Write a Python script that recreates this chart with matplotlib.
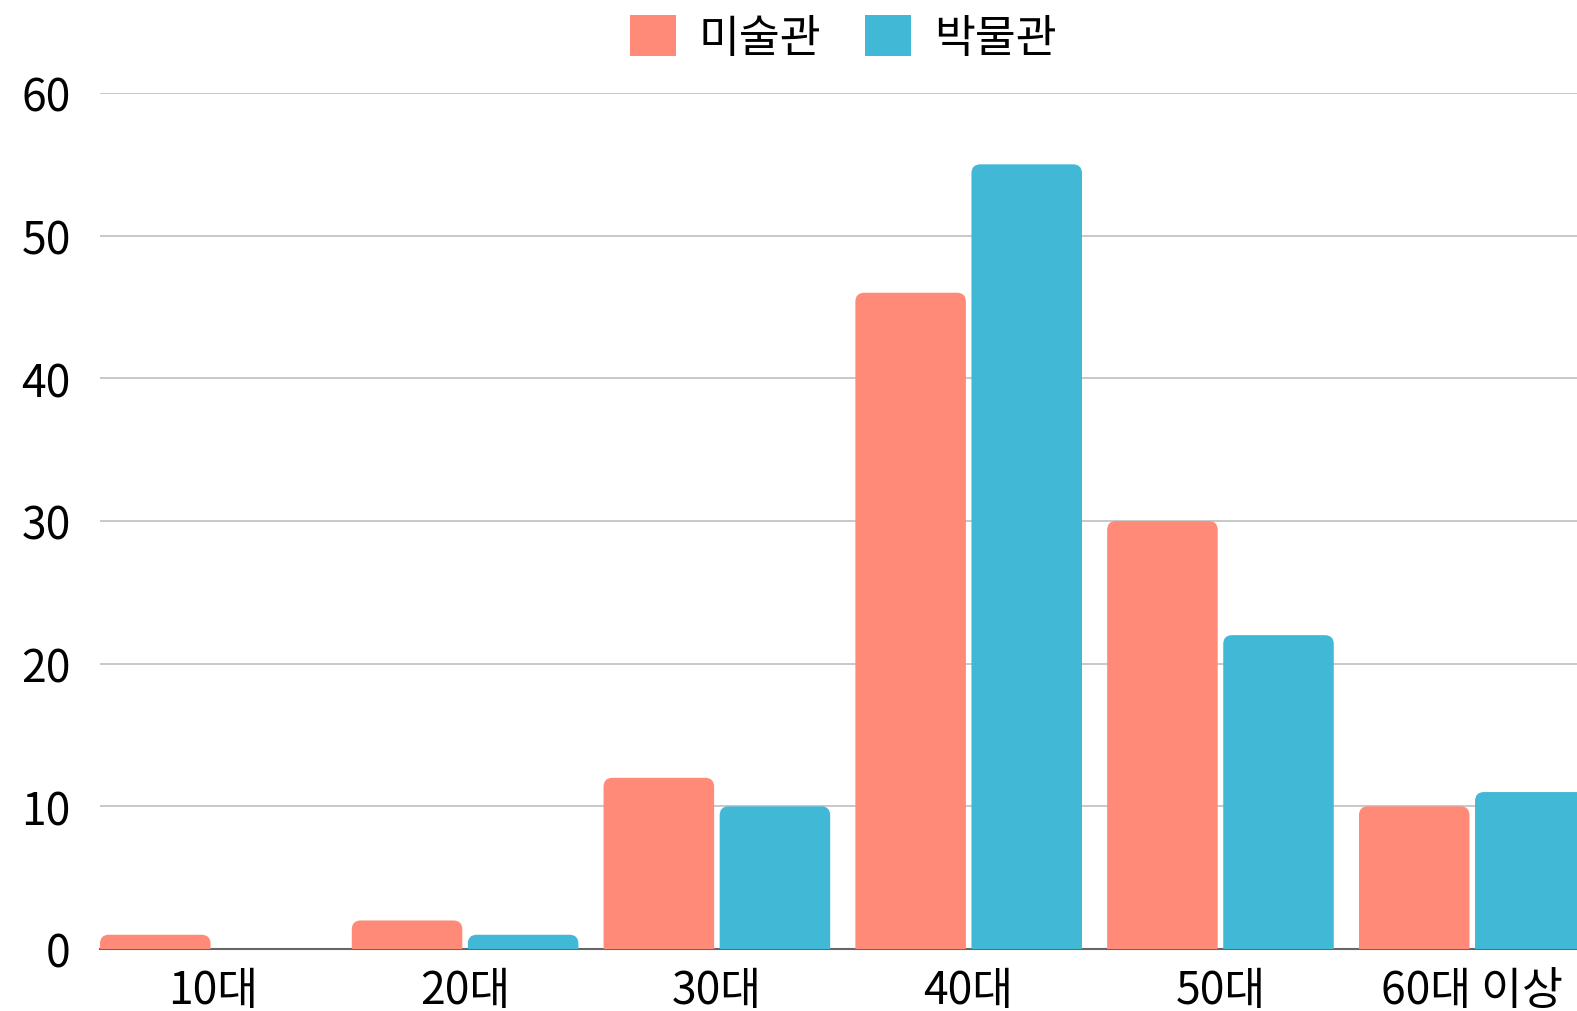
import matplotlib
matplotlib.use("Agg")
import matplotlib.pyplot as plt
from matplotlib.path import Path
from matplotlib.patches import PathPatch, Patch

plt.rcParams['font.family'] = ['Noto Sans CJK KR', 'DejaVu Sans']

categories = ["10대", "20대", "30대", "40대", "50대", "60대 이상"]
art = [1, 2, 12, 46, 30, 10]       # 미술관
museum = [0, 1, 10, 55, 22, 11]    # 박물관
series_names = ["미술관", "박물관"]
colors = ["#FF8A78", "#42B8D7"]
yticks = [0, 10, 20, 30, 40, 50, 60]

W, H = 1577, 1012
fig = plt.figure(figsize=(W / 100, H / 100), dpi=100)
ax = fig.add_axes([100 / W, 1 - 950 / H, 1 - 100 / W, (950 - 94) / H])

xs = list(range(len(categories)))
width = 0.439
off = 0.2305
bars1 = ax.bar([x - off for x in xs], art, width, color=colors[0], zorder=3)
bars2 = ax.bar([x + off for x in xs], museum, width, color=colors[1], zorder=3)

ax.set_xlim(-0.45, 5.416)
ax.set_ylim(0, 60)

# rounded top corners (radius in pixels converted to data units)
px_x = (1577 - 100) / (5.416 + 0.45)
px_y = (950 - 94) / 60
r = 9


def rounded(rect, color):
    x0, y0 = rect.get_x(), rect.get_y()
    w, h = rect.get_width(), rect.get_height()
    if h <= 0:
        rect.remove()
        return
    rx = r / px_x
    ry = min(r / px_y, h)
    verts = [(x0, y0), (x0, y0 + h - ry), (x0, y0 + h), (x0 + rx, y0 + h),
             (x0 + w - rx, y0 + h), (x0 + w, y0 + h), (x0 + w, y0 + h - ry),
             (x0 + w, y0), (x0, y0)]
    codes = [Path.MOVETO, Path.LINETO, Path.CURVE3, Path.CURVE3,
             Path.LINETO, Path.CURVE3, Path.CURVE3, Path.LINETO, Path.CLOSEPOLY]
    ax.add_patch(PathPatch(Path(verts, codes), facecolor=color, edgecolor="none", zorder=3))
    rect.remove()


for b in list(bars1):
    rounded(b, colors[0])
for b in list(bars2):
    rounded(b, colors[1])

ax.set_yticks(yticks)
ax.set_yticklabels([str(t) for t in yticks])
ax.set_xticks(xs)
ax.set_xticklabels(categories)
ax.tick_params(axis="both", length=0, labelsize=32, colors="black")
ax.tick_params(axis="y", pad=21)
ax.tick_params(axis="x", pad=13)
ax.grid(axis="y", color="#c8c8c8", linewidth=1.4, zorder=0)
for s in ["top", "right", "left"]:
    ax.spines[s].set_visible(False)
ax.spines["bottom"].set_color("#666666")
ax.spines["bottom"].set_linewidth(1.5)
ax.spines["bottom"].set_zorder(2)

handles = [Patch(facecolor=c, edgecolor="none") for c in colors]
fig.legend(handles, series_names, loc="center", bbox_to_anchor=(843 / W, 1 - 39 / H),
           ncol=2, frameon=False, fontsize=32, handlelength=1.04, handleheight=1.04,
           handletextpad=0.5, columnspacing=1.0)

fig.savefig("out.png", dpi=100)
